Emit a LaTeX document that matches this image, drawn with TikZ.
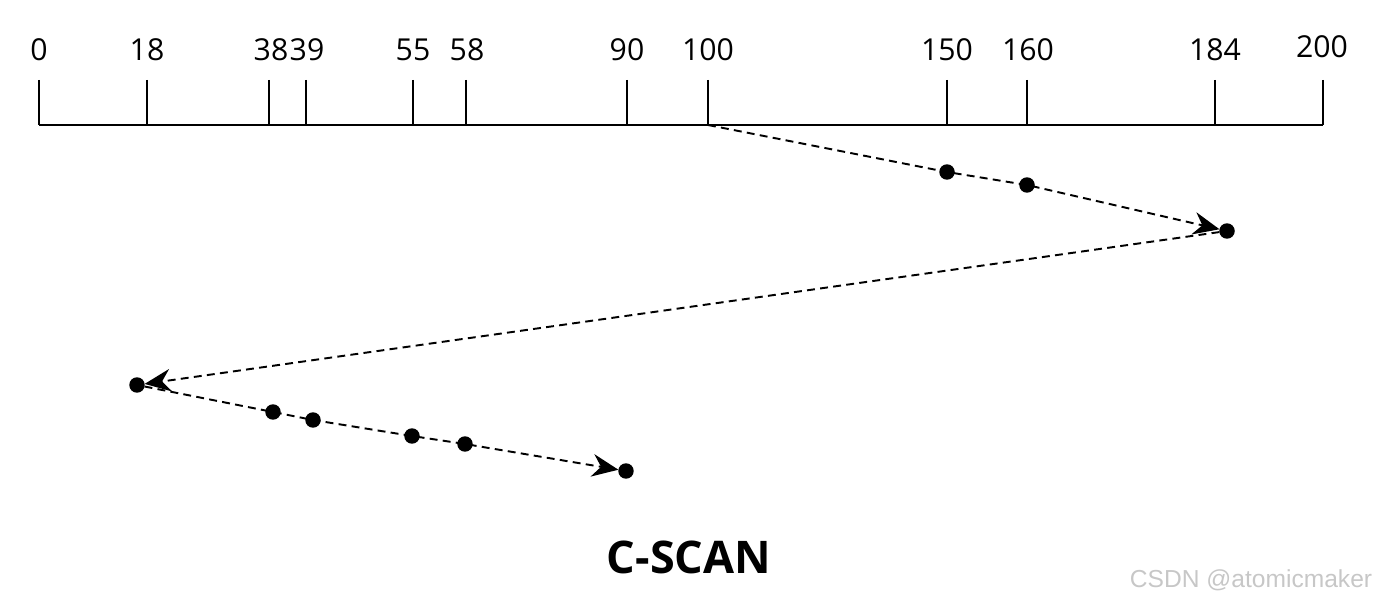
\documentclass[tikz,border=0pt]{standalone}
\usepackage{fontspec}
\setmainfont{Open Sans}
\newfontfamily\wmfont{Liberation Sans}
\usetikzlibrary{arrows.meta}
\begin{document}
\begin{tikzpicture}[x=0.02cm,y=-0.02cm,line width=1.1pt]
\tikzstyle{dot}=[draw, circle, fill=black, inner sep=0pt, minimum size=0.27cm]
\tikzstyle{num}=[inner sep=0pt, font=\fontsize{17.2}{20}\selectfont]
\tikzstyle{track}=[dash pattern=on 4.5pt off 3pt, line width=1.1pt, -{Stealth[length=15pt,width=13pt,inset=5pt,line width=0pt]}]
\useasboundingbox (0,0) rectangle (1381,604);

% axis with ticks
\draw (39,125) -- (1323,125);
\foreach \v/\x in {0/39,18/147,38/269,39/306,55/413,58/466,90/627,100/708,150/947,160/1027,184/1215,200/1323}
  \draw (\x,80) -- (\x,125);

\node[num] (l0)   at (39,50)   {0};
\node[num] (l18)  at (147,50)  {18};
\node[num] (l38)  at (271,50)  {38};
\node[num] (l39)  at (307,50)  {39};
\node[num] (l55)  at (413,50)  {55};
\node[num] (l58)  at (467,50)  {58};
\node[num] (l90)  at (627,50)  {90};
\node[num] (l100) at (708,50)  {100};
\node[num] (l150) at (947,50)  {150};
\node[num] (l160) at (1028,50) {160};
\node[num] (l184) at (1215,50) {184};
\node[num] (l200) at (1322,47) {200};

% requests
\coordinate (s100) at (708,125);
\node[dot] (d150) at (947,172) {};
\node[dot] (d160) at (1027,185) {};
\node[dot] (d184) at (1227,231) {};
\node[dot] (d18)  at (137,385) {};
\node[dot] (d38)  at (273,412) {};
\node[dot] (d39)  at (313,420) {};
\node[dot] (d55)  at (412,436) {};
\node[dot] (d58)  at (465,444) {};
\node[dot] (d90)  at (626,471) {};

\draw[track] (s100) -- (d150.center) -- (d160.center) -- (d184);
\draw[track] (d184) -- (d18);
\draw[track] (d18) -- (d38.center) -- (d39.center) -- (d55.center) -- (d58.center) -- (d90);

\node[font=\bfseries\fontsize{25.6}{30}\selectfont] (title) at (689,557) {C-SCAN};
\node[anchor=east, text=black!22, font=\wmfont\fontsize{14}{17}\selectfont] (mark) at (1379,580) {CSDN @atomicmaker};
\end{tikzpicture}
\end{document}
